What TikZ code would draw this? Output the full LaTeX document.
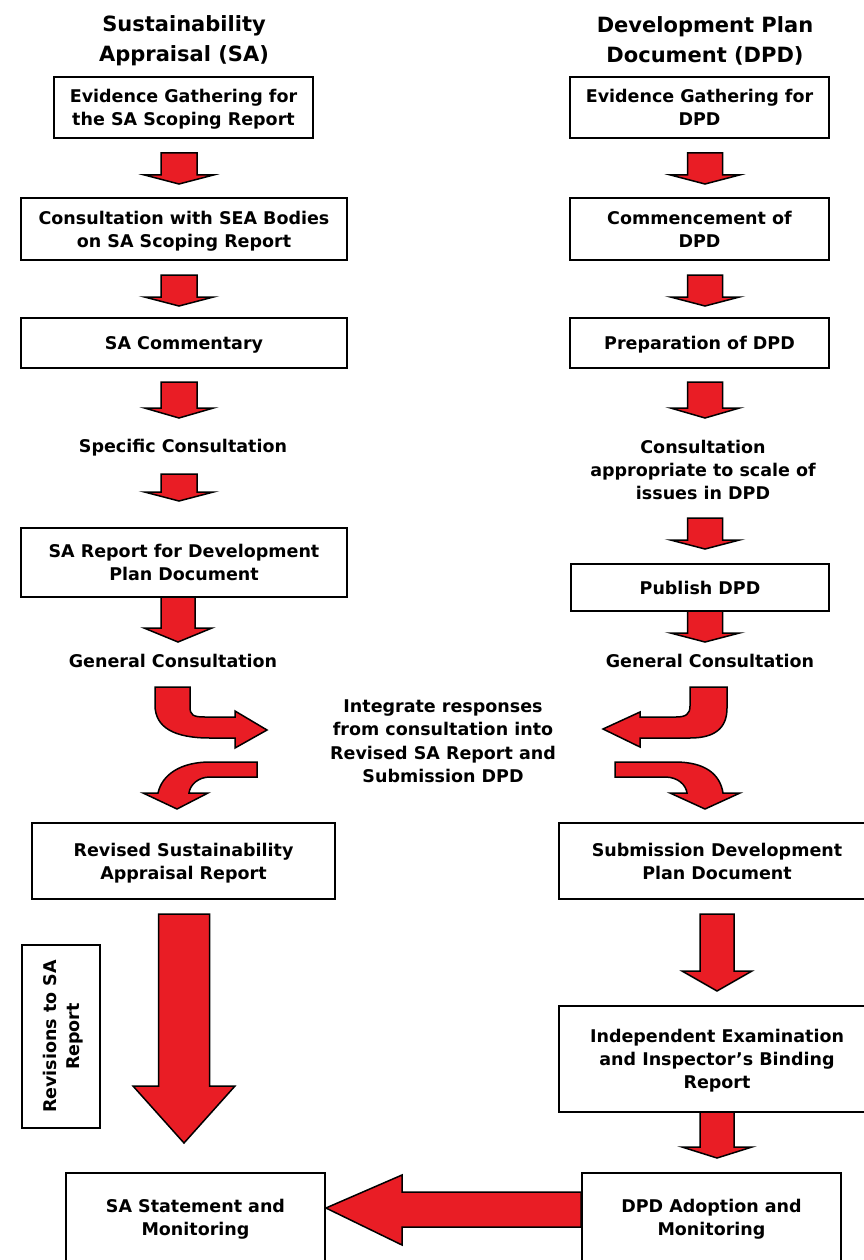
\documentclass[tikz,border=0pt]{standalone}
\usepackage{fontspec}
\setmainfont{DejaVu Sans}
\usetikzlibrary{positioning}

\definecolor{arrowred}{RGB}{233,29,37}

% block arrow pointing down: x, top, neck, tip, half shaft, half head
\newcommand{\blockdown}[6]{%
  \draw[redarrow] (#1-#5,#2) -- (#1+#5,#2) -- (#1+#5,#3) -- (#1+#6,#3)
    -- (#1,#4) -- (#1-#6,#3) -- (#1-#5,#3) -- cycle;}

\begin{document}
\begin{tikzpicture}[x=1pt, y=-1pt,
        stage/.style = {draw=black, line width=1.8pt, fill=white, align=center, inner sep=0pt, text depth=0pt, font=\fontsize{17.5}{23}\selectfont\bfseries},
        heading/.style = {align=center, inner sep=0pt, font=\fontsize{21}{30}\selectfont\bfseries},
        note/.style = {align=center, inner sep=0pt, font=\fontsize{17.5}{23}\selectfont\bfseries},
        redarrow/.style = {fill=arrowred, draw=black, line width=1.5pt, line join=miter}
    ]

    \useasboundingbox (0,0) rectangle (863,1260);

    % Sustainability Appraisal column
    \node[heading] (satitle) at (184,41) {Sustainability\\Appraisal (SA)};
    \node[stage, minimum width=259, minimum height=61] (sa1) at (183.5,107.5) {Evidence Gathering for\\the SA Scoping Report};
    \node[stage, minimum width=326, minimum height=62] (sa2) at (184,229) {Consultation with SEA Bodies\\on SA Scoping Report};
    \node[stage, minimum width=326, minimum height=50] (sa3) at (184,343) {SA Commentary};
    \node[note] (saspec) at (183,448) {Specific Consultation};
    \node[stage, minimum width=326, minimum height=69] (sa4) at (184,562.5) {SA Report for Development\\Plan Document};
    \node[note] (sagen) at (173,661) {General Consultation};
    \node[stage, minimum width=303, minimum height=76] (sa5) at (183.5,861) {Revised Sustainability\\Appraisal Report};
    \node[stage, rotate=90, minimum width=183, minimum height=78] (sarev) at (61,1036.5) {Revisions to SA\\Report};
    \node[stage, minimum width=259, minimum height=88] (sa6) at (195.5,1217) {SA Statement and\\Monitoring};

    % Development Plan Document column
    \node[heading] (dptitle) at (705,41) {Development Plan\\Document (DPD)};
    \node[stage, minimum width=259, minimum height=61] (dp1) at (699.5,107.5) {Evidence Gathering for\\DPD};
    \node[stage, minimum width=259, minimum height=62] (dp2) at (699.5,229) {Commencement of\\DPD};
    \node[stage, minimum width=259, minimum height=50] (dp3) at (699.5,343) {Preparation of DPD};
    \node[note] (dpcons) at (703,470) {Consultation\\appropriate to scale of\\issues in DPD};
    \node[stage, minimum width=258, minimum height=47] (dp4) at (700,587.5) {Publish DPD};
    \node[note] (dpgen) at (710,661) {General Consultation};
    \node[stage, minimum width=316, minimum height=76] (dp5) at (717,861) {Submission Development\\Plan Document};
    \node[stage, minimum width=316, minimum height=106] (dp6) at (717,1059) {Independent Examination\\and Inspector’s Binding\\Report};
    \node[stage, minimum width=259, minimum height=88] (dp7) at (711.5,1217) {DPD Adoption and\\Monitoring};

    \node[note, font=\fontsize{17.5}{23.5}\selectfont\bfseries] (integrate) at (443,741) {Integrate responses\\from consultation into\\Revised SA Report and\\Submission DPD};

    % straight arrows, left
    \blockdown{179}{153}{175}{184}{18}{34.5}
    \blockdown{179}{275}{297}{306}{18}{34.5}
    \blockdown{179}{382}{408}{418}{18}{34.5}
    \blockdown{179}{474}{492}{501}{18}{34.5}
    \blockdown{178}{597}{628}{642}{17}{34}
    \blockdown{184}{914}{1086}{1143}{25.5}{51}

    % straight arrows, right
    \blockdown{705}{153}{175}{184}{17.5}{34.5}
    \blockdown{705}{275}{297}{306}{17.5}{34.5}
    \blockdown{705}{382}{408}{418}{17.5}{34.5}
    \blockdown{705}{518}{540}{549}{17.5}{34.5}
    \blockdown{705}{611}{633}{642}{17.5}{34.5}
    \blockdown{717}{914}{971}{991}{17}{35}
    \blockdown{717}{1112}{1147}{1158}{17}{35}

    % bent arrows round the middle text
    \draw[redarrow] (155,687) -- (190,687) -- (190,707) .. controls (190,715) and (193,717) .. (205,717)
        -- (235,717) -- (235,711) -- (267,730) -- (235,748) -- (235,738) -- (210,738)
        .. controls (175,738) and (155,728) .. (155,705) -- cycle;
    \draw[redarrow] (257,762) -- (257,777) -- (210,777) .. controls (198,777) and (190,785) .. (189,793)
        -- (208,793) -- (177,809) -- (143,793) -- (158,793)
        .. controls (162,775) and (180,762) .. (210,762) -- cycle;
    \draw[redarrow] (727,687) -- (690,687) -- (690,706) .. controls (690,714) and (686,717) .. (676,717)
        -- (640,717) -- (640,712) -- (603,729) -- (640,747) -- (640,738) -- (690,738)
        .. controls (715,738) and (727,728) .. (727,708) -- cycle;
    \draw[redarrow] (615,762) -- (615,777) -- (665,777) .. controls (678,777) and (686,785) .. (687,793)
        -- (670,793) -- (705,809) -- (740,793) -- (723,793)
        .. controls (720,774) and (705,762) .. (675,762) -- cycle;

    % adoption feeds the SA statement
    \draw[redarrow] (dp7.west |- 0,1192) -- (402,1192) -- (402,1175) -- (sa6.east |- 0,1208) -- (402,1245) -- (402,1227) -- (dp7.west |- 0,1227) -- cycle;

\end{tikzpicture}
\end{document}
